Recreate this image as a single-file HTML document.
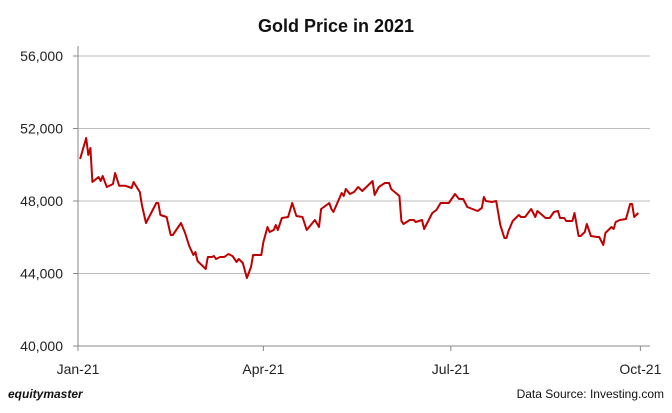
<!DOCTYPE html>
<html><head><meta charset="utf-8"><style>
body{margin:0;background:#fff;font-family:"Liberation Sans",sans-serif;}
svg text{font-family:"Liberation Sans",sans-serif;}
</style></head><body>
<svg id="chart" width="672" height="408" xmlns="http://www.w3.org/2000/svg">
<text x="336" y="32" text-anchor="middle" font-size="18" font-weight="bold" fill="#111">Gold Price in 2021</text>
<g id="grid"></g><g id="axes"></g><g id="series"></g>
<text x="8" y="398" font-size="12" font-weight="bold" font-style="italic" fill="#111">equitymaster</text>
<text x="664" y="398" text-anchor="end" font-size="12" fill="#111">Data Source: Investing.com</text>
</svg>
<script>
const yTicks=[40000,44000,48000,52000,56000];
const xTickLabels=["Jan-21","Apr-21","Jul-21","Oct-21"];
const xTickDays=[0,90,181,273];
const days=[1,4,5,6,7,10,11,12,14,17,18,20,23,26,27,30,31,33,38,39,40,43,45,46,50,52,54,56,57,58,62,63,65,66,67,69,71,73,75,77,78,80,82,84,85,89,90,92,93,95,96,97,99,102,104,106,109,111,115,117,118,122,123,124,128,129,130,132,134,136,138,143,144,146,149,151,152,156,157,158,161,163,164,167,168,172,174,176,178,180,183,185,187,189,194,196,197,198,201,203,205,207,208,209,211,214,215,217,220,222,223,227,229,231,233,234,236,237,240,241,243,244,246,247,249,252,253,255,256,259,260,261,263,266,268,269,270,271,272];
const prices=[50317,51476,50538,50924,49048,49324,49104,49379,48773,48938,49545,48841,48841,48717,49048,48497,47780,46786,47890,47890,47228,47118,46125,46125,46786,46235,45517,45021,45187,44690,44248,44910,44910,44966,44800,44910,44910,45076,44966,44635,44800,44579,43752,44359,45021,45021,45738,46566,46290,46400,46676,46400,47062,47118,47890,47173,47118,46400,46952,46566,47559,47890,47559,47393,48441,48276,48662,48386,48497,48773,48552,49104,48331,48772,48993,48993,48662,48276,46897,46731,46952,46952,46842,46952,46456,47338,47504,47890,47890,47890,48386,48110,48110,47669,47449,47614,48221,48000,47945,48000,46676,45959,45959,46345,46897,47228,47118,47118,47559,47118,47449,47062,47062,47393,47449,47062,47062,46897,46897,47338,46069,46069,46290,46731,46069,46014,46014,45573,46235,46566,46456,46842,46952,47007,47835,47835,47118,47228,47338];
const X0=78,X1=650,Y0=346,Y1=56,dayPx=2.06;
const xs=d=>X0+d*dayPx;
const ys=v=>Y0-(v-40000)/16000*(Y0-Y1);
const NS="http://www.w3.org/2000/svg";
const grid=document.getElementById('grid'),axes=document.getElementById('axes'),ser=document.getElementById('series');
yTicks.forEach(t=>{
 const y=ys(t);
 const l=document.createElementNS(NS,'line');
 
 
 l.setAttribute('x1',X0);l.setAttribute('x2',X1);l.setAttribute('y1',y);l.setAttribute('y2',y);l.setAttribute('stroke',t===40000?'#888':'#bdbdbd');l.setAttribute('stroke-width','1');grid.appendChild(l);
 const tk=document.createElementNS(NS,'line');
 
 
 tk.setAttribute('x1',X0-5);tk.setAttribute('x2',X0);tk.setAttribute('y1',y);tk.setAttribute('y2',y);tk.setAttribute('stroke','#888');axes.appendChild(tk);
 const tx=document.createElementNS(NS,'text');
 
 
 tx.setAttribute('x',X0-15);tx.setAttribute('y',y+5);tx.setAttribute('text-anchor','end');tx.setAttribute('font-size','14');tx.setAttribute('fill','#222');
 tx.textContent=t.toLocaleString('en-US');axes.appendChild(tx);
});
const ax=document.createElementNS(NS,'line');


ax.setAttribute('x1',X0);ax.setAttribute('x2',X0);ax.setAttribute('y1',Y1-10);ax.setAttribute('y2',Y0+5);ax.setAttribute('stroke','#888');axes.appendChild(ax);
xTickLabels.forEach((lab,i)=>{
 const x=xs(xTickDays[i]);
 const tk=document.createElementNS(NS,'line');
 
 
 tk.setAttribute('x1',x);tk.setAttribute('x2',x);tk.setAttribute('y1',Y0);tk.setAttribute('y2',Y0+5);tk.setAttribute('stroke','#888');axes.appendChild(tk);
 const tx=document.createElementNS(NS,'text');
 
 
 tx.setAttribute('x',x);tx.setAttribute('y',374);tx.setAttribute('text-anchor','middle');tx.setAttribute('font-size','14');tx.setAttribute('fill','#222');
 tx.textContent=lab;axes.appendChild(tx);
});
const p=document.createElementNS(NS,'polyline');


p.setAttribute('points',days.map((d,i)=>xs(d).toFixed(1)+','+ys(prices[i]).toFixed(1)).join(' '));
p.setAttribute('fill','none');p.setAttribute('stroke','#c00000');p.setAttribute('stroke-width','2');p.setAttribute('stroke-linejoin','round');
ser.appendChild(p);
</script>
</body></html>
